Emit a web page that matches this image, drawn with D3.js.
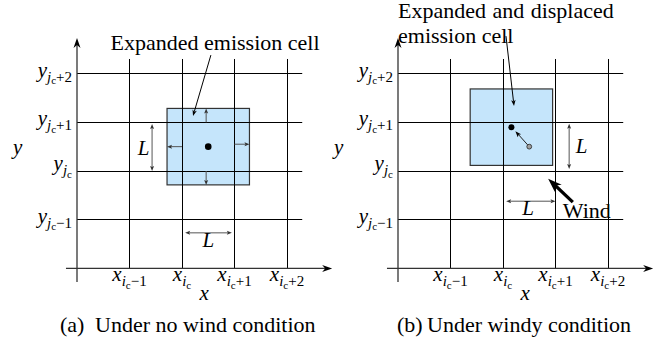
<!DOCTYPE html>
<html><head><meta charset="utf-8">
<script src="https://cdn.jsdelivr.net/npm/d3@7"></script>
</head><body style="margin:0">
<svg id="c" width="670" height="345" font-family="Liberation Serif" style="background:#fff"></svg>
<script>
// ---------- data ----------
const gridIdx = [-1, 0, 1, 2];
const xTickOffsets = ["\u22121", "", "+1", "+2"];
const yTickOffsets = ["\u22121", "", "+1", "+2"];
const panelLabels = ["(a)", "(b)"];
const captions = ["Under no wind condition", "Under windy condition"];
const annotationLines = [["Expanded emission cell"], ["Expanded and displaced", "emission cell"]];
const nominalCenter = [0.5, 0.5];
const displacedCenter = [0.16, 0.9];
const expandedHalf = 0.785;
const windTail = [1.33, -0.64];
const windHead = [0.86, -0.16];

// ---------- layout ----------
const svg = d3.select("#c");
const cellW = 52.5, cellH = 48.7;
const panelX0 = [182, 503];
const rowY0 = 171;
const FS = 21, FS1 = 15, FS2 = 11, FSB = 22;
const snap = v => Math.round(v - 0.5) + 0.5;
const timesW = {E:.611,x:.5,p:.5,a:.444,n:.5,d:.5,e:.444,i:.278,s:.389,l:.278,c:.444};
const wordWidth = (w, size) => d3.sum(w.split(""), ch => timesW[ch] || .5) * size;

function arrow(g, x1, y1, x2, y2, o) {
  o = Object.assign({len: 6, wid: 4.5, sw: 1, color: "#000", head: "#000", both: false, notch: 0.25}, o || {});
  const dx = x2 - x1, dy = y2 - y1, L = Math.hypot(dx, dy);
  const ux = dx / L, uy = dy / L;
  const back = o.len * (1 - o.notch);
  const sx = o.both ? x1 + ux * back : x1, sy = o.both ? y1 + uy * back : y1;
  g.append("line").attr("x1", sx).attr("y1", sy)
    .attr("x2", x2 - ux * back).attr("y2", y2 - uy * back)
    .attr("stroke", o.color).attr("stroke-width", o.sw);
  const headAt = (tx, ty, vx, vy) => {
    const bx = tx - vx * o.len, by = ty - vy * o.len;
    const nx = -vy, ny = vx;
    const ix = tx - vx * o.len * (1 - o.notch), iy = ty - vy * o.len * (1 - o.notch);
    g.append("path")
      .attr("d", `M${tx},${ty}L${bx + nx * o.wid / 2},${by + ny * o.wid / 2}L${ix},${iy}L${bx - nx * o.wid / 2},${by - ny * o.wid / 2}Z`)
      .attr("fill", o.head);
  };
  headAt(x2, y2, ux, uy);
  if (o.both) headAt(x1, y1, -ux, -uy);
}

function txt(g, x, y, s, size, italic, anchor) {
  const t = g.append("text").attr("x", x).attr("y", y)
    .style("font-family", '"Liberation Serif", serif')
    .attr("font-size", size).attr("text-anchor", anchor || "start").attr("fill", "#000").text(s);
  if (italic) t.style("font-style", "italic");
  return t;
}

function subLabel(g, x, y, main, idx, off, anchor) {
  const t = g.append("text").attr("x", x).attr("y", y)
    .style("font-family", '"Liberation Serif", serif')
    .attr("text-anchor", anchor).attr("font-size", FS).attr("fill", "#000");
  t.append("tspan").style("font-style", "italic").text(main);
  t.append("tspan").style("font-style", "italic").attr("font-size", FS1).attr("dy", 5).text(idx);
  t.append("tspan").attr("font-size", FS2).attr("dy", 2.5).text("c");
  if (off) t.append("tspan").attr("font-size", FS1).attr("dy", -2.5).text(off);
  return t;
}

panelLabels.forEach((lab, p) => {
  const g = svg.append("g");
  const x = d3.scaleLinear().domain([0, 1]).range([panelX0[p], panelX0[p] + cellW]);
  const y = d3.scaleLinear().domain([0, 1]).range([rowY0, rowY0 - cellH]);
  const windy = p === 1;
  const c = windy ? displacedCenter : nominalCenter;

  g.append("rect")
    .attr("x", x(c[0] - expandedHalf)).attr("y", y(c[1] + expandedHalf))
    .attr("width", x(c[0] + expandedHalf) - x(c[0] - expandedHalf))
    .attr("height", y(c[1] - expandedHalf) - y(c[1] + expandedHalf))
    .attr("fill", "#c5e5fb").attr("stroke", "#333").attr("stroke-width", 1.2);

  g.selectAll(".vg").data(gridIdx).enter().append("line")
    .attr("x1", d => snap(x(d))).attr("x2", d => snap(x(d)))
    .attr("y1", y(-2)).attr("y2", y(2.3))
    .attr("stroke", "#000").attr("stroke-width", 1);
  g.selectAll(".hg").data(gridIdx).enter().append("line")
    .attr("y1", d => snap(y(d))).attr("y2", d => snap(y(d)))
    .attr("x1", x(-2)).attr("x2", x(2.29))
    .attr("stroke", "#000").attr("stroke-width", 1);

  arrow(g, x(-2), y(-2.28), x(-2), y(2.73), {len: 10, wid: 7, sw: 1.3, color: "#333", notch: 0.3});
  arrow(g, x(-2.21), y(-2), x(2.86), y(-2), {len: 10, wid: 7, sw: 1.3, color: "#333", notch: 0.3});

  gridIdx.forEach((d, k) => {
    subLabel(g, x(d), y(-2) + 13, "x", "i", xTickOffsets[k], "middle");
    subLabel(g, x(-2) - 5, y(d) + (yTickOffsets[k] ? 3 : -1), "y", "j", yTickOffsets[k], "end");
  });
  txt(g, x(0.42), 300, "x", FS, true, "middle");
  txt(g, x(-3.13), 154, "y", FS, true, "middle");

  const Lopt = {len: 5, wid: 4, sw: 1, color: "#555", head: "#333", both: true, notch: 0.2};

  if (!windy) {
    const ao = {len: 5, wid: 4, sw: 1, color: "#555", head: "#333", notch: 0.2};
    arrow(g, x(0), y(0.5), x(c[0] - expandedHalf), y(0.5), ao);
    arrow(g, x(1), y(0.55), x(c[0] + expandedHalf), y(0.55), ao);
    arrow(g, x(0.46), y(1), x(0.46), y(c[1] + expandedHalf), ao);
    arrow(g, x(0.46), y(0), x(0.46), y(c[1] - expandedHalf), ao);
    g.append("circle").attr("cx", x(c[0])).attr("cy", y(c[1])).attr("r", 3.3).attr("fill", "#000");
    arrow(g, x(-0.57), y(0.965), x(-0.57), y(0), Lopt);
    txt(g, x(-0.73), 155, "L", FS, true, "middle");
    arrow(g, x(0.06), y(-1.27), x(0.95), y(-1.27), Lopt);
    txt(g, x(0.5), 247, "L", FS, true, "middle");
    txt(g, x(0.63), 50, annotationLines[0][0], FSB, false, "middle");
    arrow(g, x(0.55), y(2.38), x(0.21), y(1.13), {len: 6, wid: 4.5, sw: 1});
  } else {
    arrow(g, x(nominalCenter[0]), y(nominalCenter[1]), x(c[0]) + 4, y(c[1]) + 4,
      {len: 6, wid: 4.5, sw: 1, color: "#222", notch: 0.2});
    g.append("circle").attr("cx", x(nominalCenter[0])).attr("cy", y(nominalCenter[1])).attr("r", 2.4)
      .attr("fill", "#a0a0a0").attr("stroke", "#333").attr("stroke-width", 0.9);
    g.append("circle").attr("cx", x(c[0])).attr("cy", y(c[1])).attr("r", 3).attr("fill", "#000");
    arrow(g, x(1.26), y(0.97), x(1.26), y(0.04), Lopt);
    txt(g, x(1.495), 153, "L", FS, true, "middle");
    arrow(g, x(0.06), y(-0.62), x(1.0), y(-0.62), Lopt);
    txt(g, x(0.48), 215, "L", FS, true, "middle");
    arrow(g, x(windTail[0]), y(windTail[1]), x(windHead[0]), y(windHead[1]), {len: 14, wid: 10, sw: 3.2, notch: 0.3});
    txt(g, x(1.14), 218, "Wind", FSB, false);
    const words = annotationLines[1][0].split(" ");
    const left = x(-2.0), right = x(2.11);
    const widths = words.map(w => wordWidth(w, FSB));
    const gap = (right - left - d3.sum(widths)) / (words.length - 1);
    let cx = left;
    words.forEach((w, k) => { txt(g, cx, 18, w, FSB, false); cx += widths[k] + gap; });
    txt(g, left, 43, annotationLines[1][1], FSB, false);
    arrow(g, x(0.057), y(2.77), x(0.21), y(1.335), {len: 6, wid: 4.5, sw: 1});
  }

  const capStart = [60, 397][p], bodyStart = [95, 427][p];
  txt(g, capStart, 332, lab, FSB, false);
  txt(g, bodyStart, 332, captions[p], FSB, false);
});
</script>
</body></html>
